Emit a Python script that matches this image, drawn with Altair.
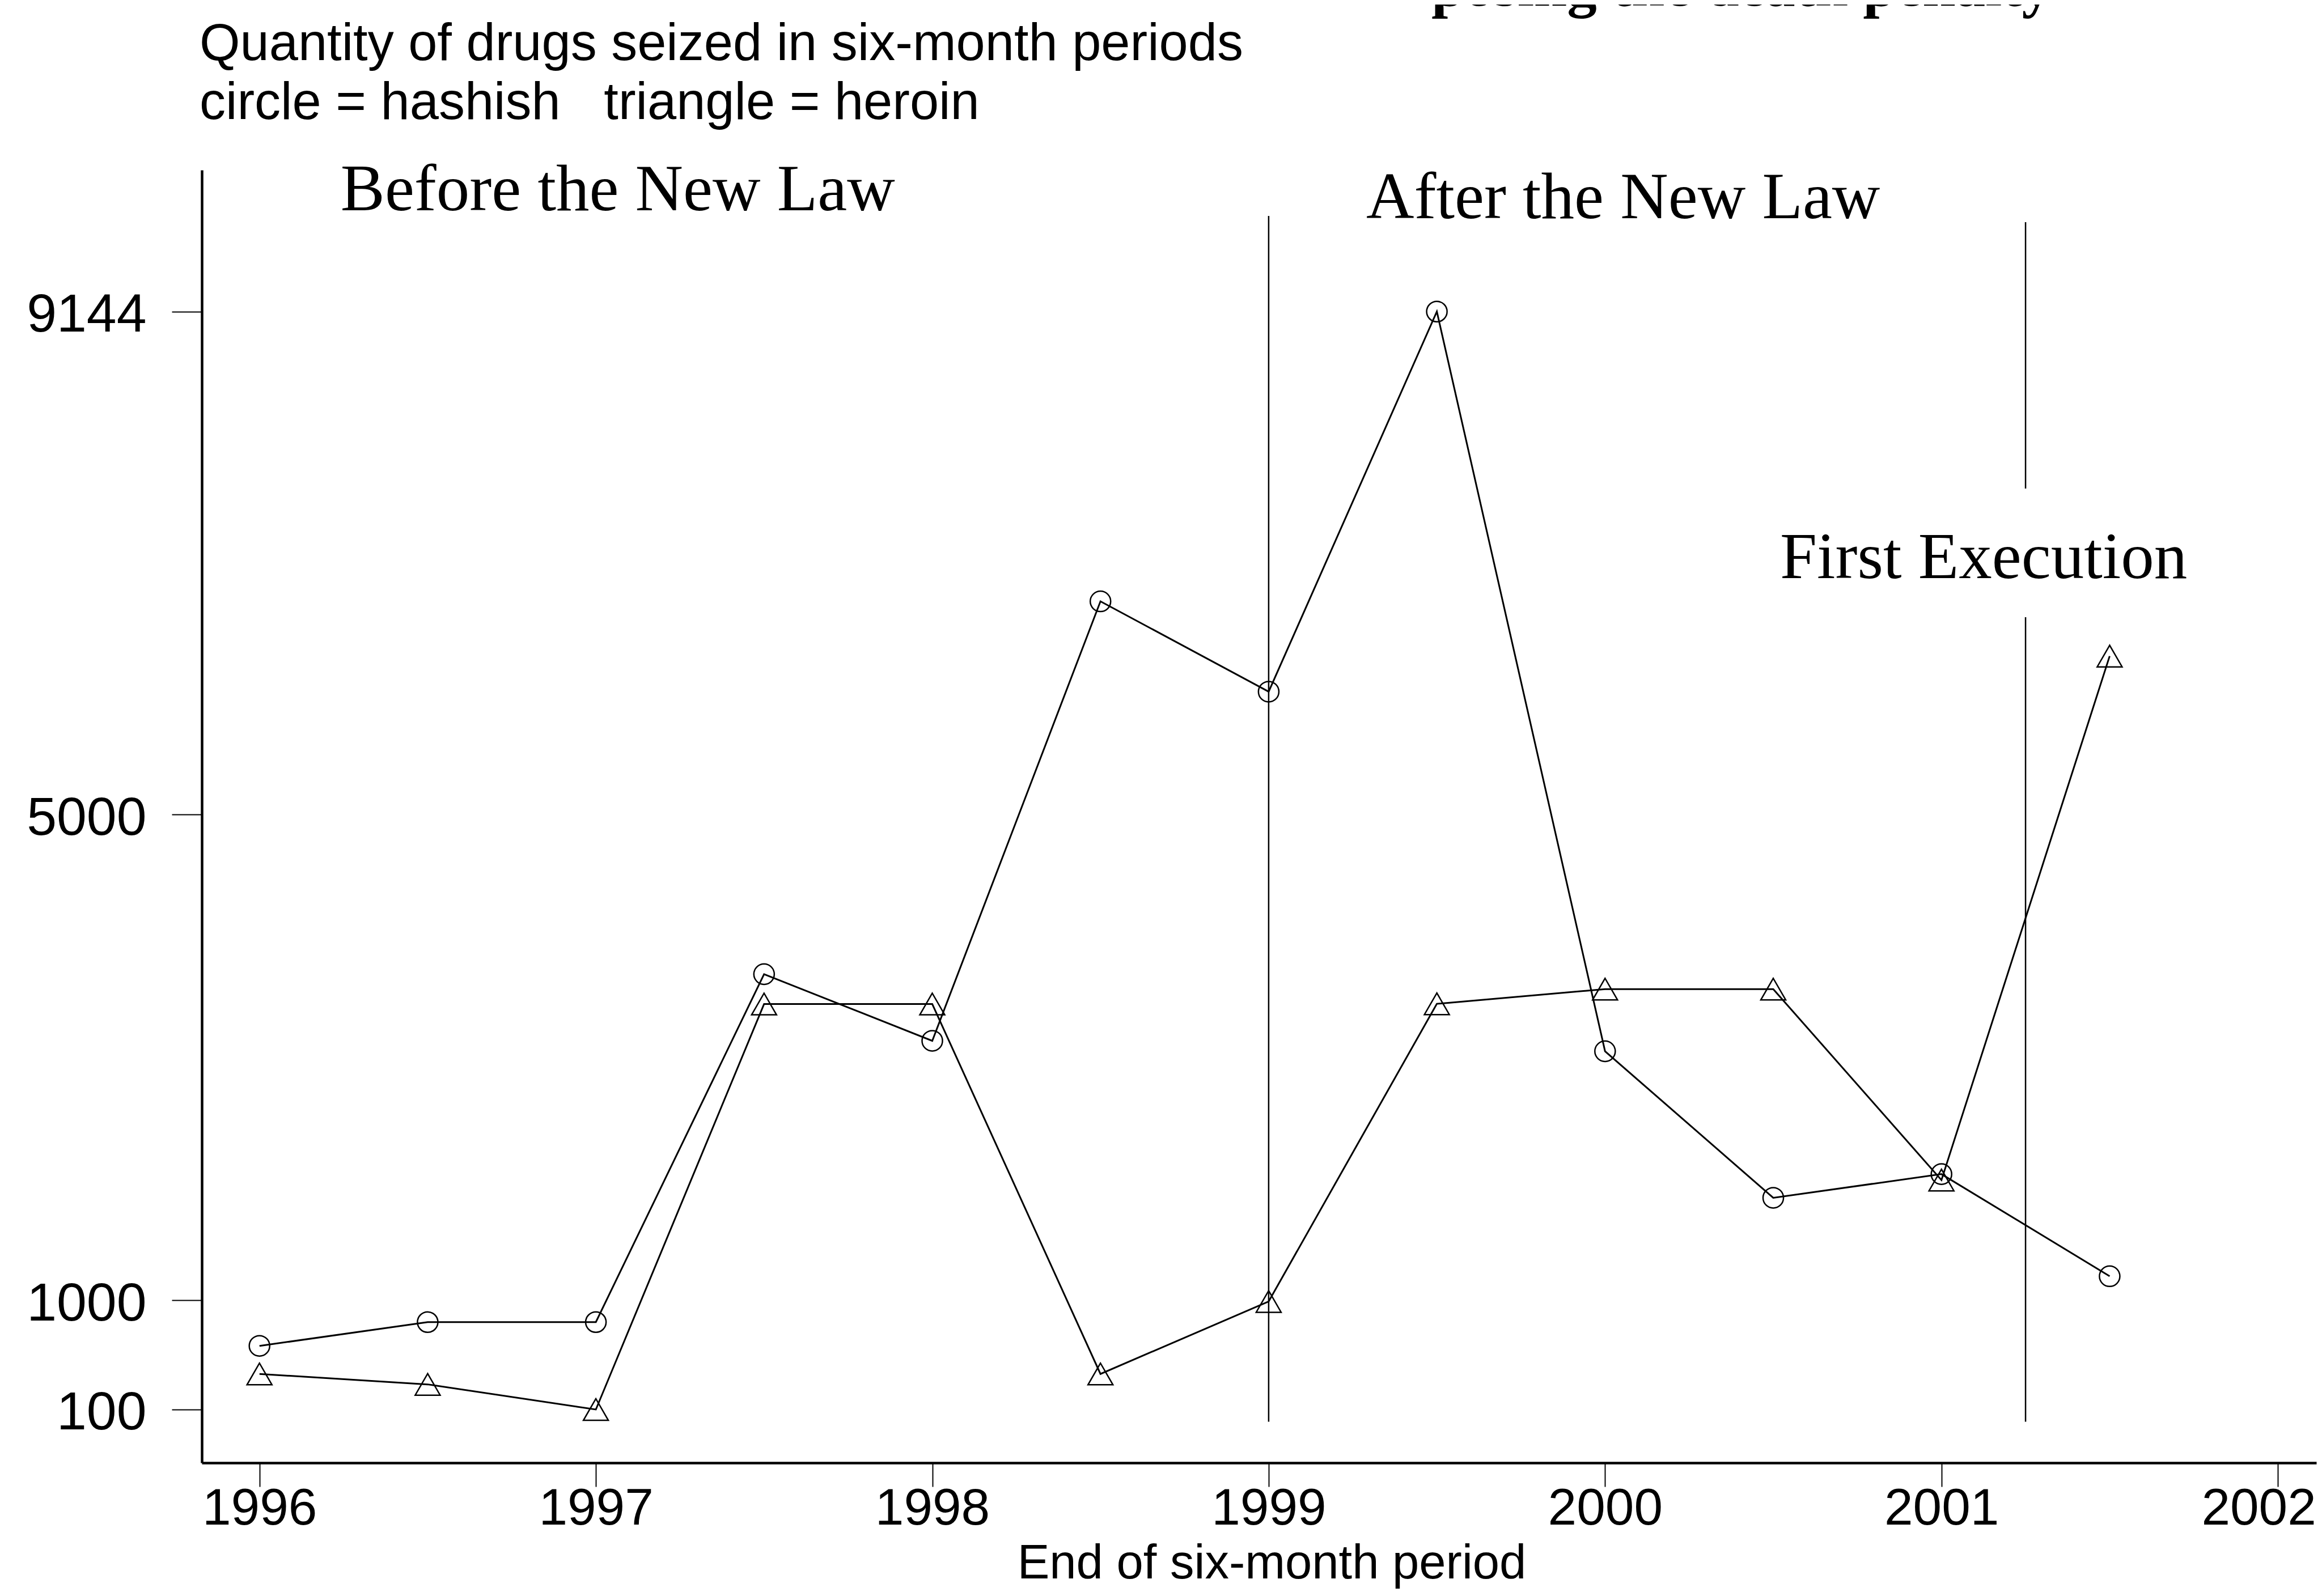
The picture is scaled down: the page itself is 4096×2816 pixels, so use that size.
import altair as alt
import pandas as pd

# ---- data ----
periods = [1996.0, 1996.5, 1997.0, 1997.5, 1998.0, 1998.5,
           1999.0, 1999.5, 2000.0, 2000.5, 2001.0, 2001.5]
hashish = [624, 820, 820, 3686, 3137, 6757, 6013, 9144, 3051, 1844, 2039, 1198]
heroin = [393, 307, 100, 3440, 3440, 393, 990, 3442, 3563, 3563, 1990, 6306]

y_ticks = [100, 1000, 5000, 9144]
x_ticks = [1996, 1997, 1998, 1999, 2000, 2001, 2002]

# vertical reference lines (year, from, to)
rule_year = [1999.0, 2001.25, 2001.25]
rule_from = [0, 0, 7686]
rule_to = [9932, 6627, 9881]

# annotations (text, year of left edge, value at baseline)
ann_text = ["Before the New Law", "After the New Law", "First Execution"]
ann_year = [1996.2412, 1999.2900, 2000.5202]
ann_value = [9978, 9913, 6948]

# header lines (text, year of left edge, value at baseline)
head_text = ["Quantity of drugs seized in six-month periods",
             "circle = hashish \u00a0\u00a0triangle = heroin"]
head_year = [1995.8219, 1995.8219]
head_value = [11216, 10730]

frag_text = ["posing the death penalty"]
frag_year = [1999.4837]
frag_value = [11664]

x_title = "End of six-month period"

# ---- tables ----
df_h = pd.DataFrame({"year": periods, "value": hashish, "drug": "hashish"})
df_r = pd.DataFrame({"year": periods, "value": heroin, "drug": "heroin"})
df_all = pd.concat([df_h, df_r], ignore_index=True)
df_rules = pd.DataFrame({"year": rule_year, "value": rule_from, "value2": rule_to})
df_ann = pd.DataFrame({"year": ann_year, "value": ann_value, "label": ann_text})
df_head = pd.DataFrame({"year": head_year, "value": head_value, "label": head_text})
df_frag = pd.DataFrame({"year": frag_year, "value": frag_value, "label": frag_text})

SANS = "Liberation Sans"
SERIF = "Liberation Serif"

xs = alt.Scale(domain=[1995.8286, 2002.1144], nice=False, zero=False)
ys = alt.Scale(domain=[-339, 10310], nice=False, zero=False)

xaxis = alt.Axis(values=x_ticks, format="d", title=x_title, grid=False,
                 labelFont=SANS, labelFontSize=91, labelColor="black",
                 labelPadding=-6, labelFlush=False, labelOverlap=False, labelLimit=0,
                 labelOffset={"condition": {"test": "datum.value == 2002", "value": -34}, "value": 0},
                 tickSize=42, tickWidth=2, tickColor="black",
                 domainWidth=4.5, domainColor="black",
                 titleFont=SANS, titleFontSize=85, titleFontWeight="normal",
                 titleColor="black", titleX=1887, titleY=203.5, titleLimit=0,
                 titleBaseline="alphabetic", titleAlign="center")
yaxis = alt.Axis(values=y_ticks, format="d", title=None, grid=False,
                 labelFont=SANS, labelFontSize=95, labelColor="black",
                 labelPadding=45, labelOffset=6, labelFlush=False, labelOverlap=False,
                 labelLimit=0,
                 tickSize=53, tickWidth=2, tickColor="black",
                 domainWidth=4.5, domainColor="black")

X = alt.X("year:Q", scale=xs, axis=xaxis)
Y = alt.Y("value:Q", scale=ys, axis=yaxis)

lines = alt.Chart(df_all).mark_line(color="black", strokeWidth=3).encode(
    x=X, y=Y, detail="drug:N")

circles = alt.Chart(df_h).mark_point(shape="circle", size=1300, filled=False,
                                     color="black", strokeWidth=2.5, opacity=1).encode(x=X, y=Y)
triangles = alt.Chart(df_r).mark_point(shape="triangle-up", size=1936, filled=False,
                                       color="black", strokeWidth=2.5, opacity=1).encode(x=X, y=Y)

rules = alt.Chart(df_rules).mark_rule(color="black", strokeWidth=2.5).encode(
    x=X, y=Y, y2="value2:Q")

ann = alt.Chart(df_ann).mark_text(font=SERIF, fontSize=117, align="left",
                                  baseline="alphabetic", color="black").encode(
    x=X, y=Y, text="label:N")

head = alt.Chart(df_head).mark_text(font=SANS, fontSize=92, align="left",
                                    baseline="alphabetic", color="black").encode(
    x=X, y=Y, text="label:N")

frag = alt.Chart(df_frag).mark_text(font=SERIF, fontSize=105, fontWeight="bold",
                                    align="left", baseline="alphabetic",
                                    color="black").encode(x=X, y=Y, text="label:N")

chart = alt.layer(rules, lines, circles, triangles, ann, head, frag).properties(
    width=3730, height=2281,
    autosize=alt.AutoSizeParams(type="none"),
    padding={"left": 348, "top": 292, "right": 2, "bottom": 222},
    background="white",
).configure_view(stroke=None)

chart.save("out.html", embed_options={"renderer": "svg", "actions": False})
